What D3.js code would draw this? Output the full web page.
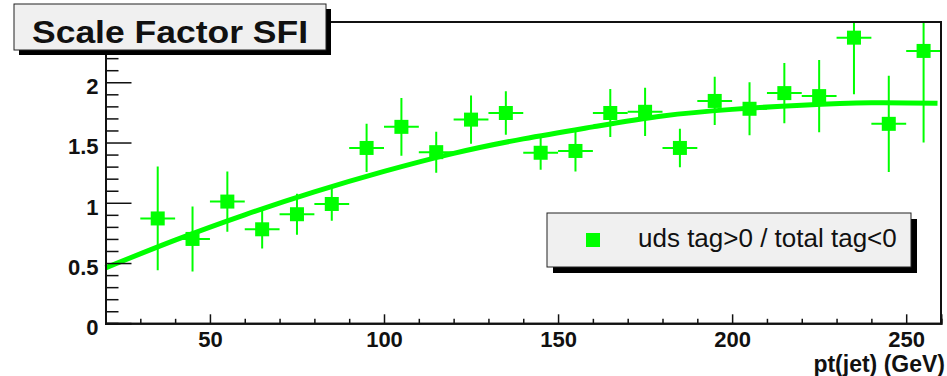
<!DOCTYPE html>
<html>
<head>
<meta charset="utf-8">
<script src="https://cdn.jsdelivr.net/npm/d3@7"></script>
<style>
  html, body { margin: 0; padding: 0; background: #fff; }
  svg { display: block; font-family: "Liberation Sans", Arial, Helvetica, sans-serif; }
</style>
</head>
<body>
<svg id="chart" width="947" height="376"></svg>
<script>
// Bin centres (GeV) of the jet pt histogram
const ptBins = [35, 45, 55, 65, 75, 85, 95, 105, 115, 125, 135, 145, 155, 165, 175, 185, 195, 205, 215, 225, 235, 245, 255];
// Scale factor per bin and its statistical uncertainty
const sfValues = [0.87, 0.70, 1.01, 0.78, 0.905, 0.99, 1.455, 1.63, 1.42, 1.69, 1.745, 1.415, 1.43, 1.745, 1.755, 1.455, 1.845, 1.78, 1.91, 1.885, 2.37, 1.655, 2.26];
const sfErrors = [0.43, 0.27, 0.25, 0.16, 0.17, 0.14, 0.20, 0.24, 0.17, 0.20, 0.18, 0.14, 0.17, 0.20, 0.20, 0.16, 0.20, 0.22, 0.25, 0.30, 0.47, 0.40, 0.76];
const binHalfWidth = 5;
// Fitted curve, sampled along pt
const fitPt = [20, 40, 60, 80, 100, 120, 140, 160, 180, 200, 220, 240, 259];
const fitSF = [0.46, 0.69, 0.90, 1.09, 1.26, 1.41, 1.53, 1.63, 1.72, 1.775, 1.81, 1.83, 1.825];
// Axis ticks
const xMajorTicks = [50, 100, 150, 200, 250];
const xMinorTicks = [30, 40, 60, 70, 80, 90, 110, 120, 130, 140, 160, 170, 180, 190, 210, 220, 230, 240, 260];
const yMajorTicks = [0, 0.5, 1, 1.5, 2];
const yTickLabels = ["0", "0.5", "1", "1.5", "2"];
const yMinorTicks = [0.1, 0.2, 0.3, 0.4, 0.6, 0.7, 0.8, 0.9, 1.1, 1.2, 1.3, 1.4, 1.6, 1.7, 1.8, 1.9, 2.1, 2.2, 2.3, 2.4];

const titleText = "Scale Factor SFI";
const legendText = "uds tag>0 / total tag<0";
const xTitle = "pt(jet) (GeV)";

const green = "#00ff00";
const svg = d3.select("#chart");

const frame = { left: 105.5, right: 941, top: 22, bottom: 323.3 };
const x = d3.scaleLinear().domain([20, 260]).range([frame.left, frame.right]);
const y = d3.scaleLinear().domain([0, 2.5]).range([frame.bottom, frame.top]);

svg.append("defs").append("clipPath").attr("id", "plotClip")
  .append("rect")
  .attr("x", frame.left).attr("y", frame.top)
  .attr("width", frame.right - frame.left).attr("height", frame.bottom - frame.top);

// Data points with error bars
const pts = svg.append("g").attr("clip-path", "url(#plotClip)");
const data = ptBins.map((p, i) => ({ p, v: sfValues[i], e: sfErrors[i] }));

pts.selectAll("line.ey").data(data).join("line")
  .attr("class", "ey")
  .attr("x1", d => x(d.p)).attr("x2", d => x(d.p))
  .attr("y1", d => y(d.v - d.e)).attr("y2", d => y(d.v + d.e))
  .attr("stroke", green).attr("stroke-width", 2);

pts.selectAll("line.ex").data(data).join("line")
  .attr("class", "ex")
  .attr("x1", d => x(d.p - binHalfWidth)).attr("x2", d => x(d.p + binHalfWidth))
  .attr("y1", d => y(d.v)).attr("y2", d => y(d.v))
  .attr("stroke", green).attr("stroke-width", 2);

const ms = 14;
pts.selectAll("rect.m").data(data).join("rect")
  .attr("class", "m")
  .attr("x", d => x(d.p) - ms / 2).attr("y", d => y(d.v) - ms / 2)
  .attr("width", ms).attr("height", ms)
  .attr("fill", green);

// Fit curve
const fitLine = d3.line()
  .x((d, i) => x(fitPt[i]))
  .y(d => y(d))
  .curve(d3.curveNatural);
svg.append("path")
  .attr("d", fitLine(fitSF))
  .attr("fill", "none")
  .attr("stroke", green)
  .attr("stroke-width", 5);

// Frame (top and right)
svg.append("path")
  .attr("d", `M${frame.left},${frame.top}H${frame.right}V${frame.bottom}`)
  .attr("fill", "none").attr("stroke", "#111").attr("stroke-width", 2);

// Y axis: ticks point into the plot
const yAxis = d3.axisLeft(y).tickValues(yMajorTicks).tickSize(-26).tickPadding(7)
  .tickFormat((d, i) => yTickLabels[i]);
const yMinor = d3.axisLeft(y).tickValues(yMinorTicks).tickSize(-13).tickFormat("");
const gy = svg.append("g").attr("transform", `translate(${frame.left},0)`).call(yAxis);
svg.append("g").attr("transform", `translate(${frame.left},0)`).call(yMinor);

// X axis
const xAxis = d3.axisBottom(x).tickValues(xMajorTicks).tickSize(-9).tickPadding(8);
const xMinor = d3.axisBottom(x).tickValues(xMinorTicks).tickSize(-4.5).tickFormat("");
const gx = svg.append("g").attr("transform", `translate(0,${frame.bottom})`).call(xAxis);
svg.append("g").attr("transform", `translate(0,${frame.bottom})`).call(xMinor);

svg.selectAll(".domain").attr("stroke", "#111").attr("stroke-width", 2);
svg.selectAll(".tick line").attr("stroke", "#111").attr("stroke-width", 1.5);
svg.selectAll(".tick text")
  .attr("fill", "#111")
  .style("font-family", "'Liberation Sans', Arial, sans-serif")
  .style("font-weight", "bold")
  .style("font-size", "22px");
gy.selectAll(".tick text").attr("dy", "0.52em");

// X axis title
svg.append("text")
  .attr("x", 945).attr("y", 372)
  .attr("text-anchor", "end")
  .style("font-weight", "bold").style("font-size", "23px")
  .attr("fill", "#111")
  .text(xTitle);

// Legend box with shadow
const lg = { x: 547, y: 213, w: 364, h: 54, s: 6 };
svg.append("rect").attr("x", lg.x + lg.s).attr("y", lg.y + lg.s)
  .attr("width", lg.w).attr("height", lg.h).attr("fill", "#000");
svg.append("rect").attr("x", lg.x).attr("y", lg.y)
  .attr("width", lg.w).attr("height", lg.h)
  .attr("fill", "#f0f0f0").attr("stroke", "#222").attr("stroke-width", 1);
svg.append("rect").attr("x", 586).attr("y", 233).attr("width", ms).attr("height", ms).attr("fill", green);
svg.append("text").attr("x", 638).attr("y", 247)
  .style("font-size", "26px").attr("fill", "#111")
  .text(legendText);

// Title box with shadow
const tb = { x: 14, y: 4, w: 312, h: 46, s: 5 };
svg.append("rect").attr("x", tb.x + tb.s).attr("y", tb.y + tb.s)
  .attr("width", tb.w).attr("height", tb.h).attr("fill", "#000");
svg.append("rect").attr("x", tb.x).attr("y", tb.y)
  .attr("width", tb.w).attr("height", tb.h)
  .attr("fill", "#f0f0f0").attr("stroke", "#222").attr("stroke-width", 1);
svg.append("text").attr("x", 32).attr("y", 43)
  .style("font-weight", "bold").style("font-size", "32px").attr("fill", "#111")
  .attr("textLength", 276).attr("lengthAdjust", "spacingAndGlyphs")
  .text(titleText);
</script>
</body>
</html>
